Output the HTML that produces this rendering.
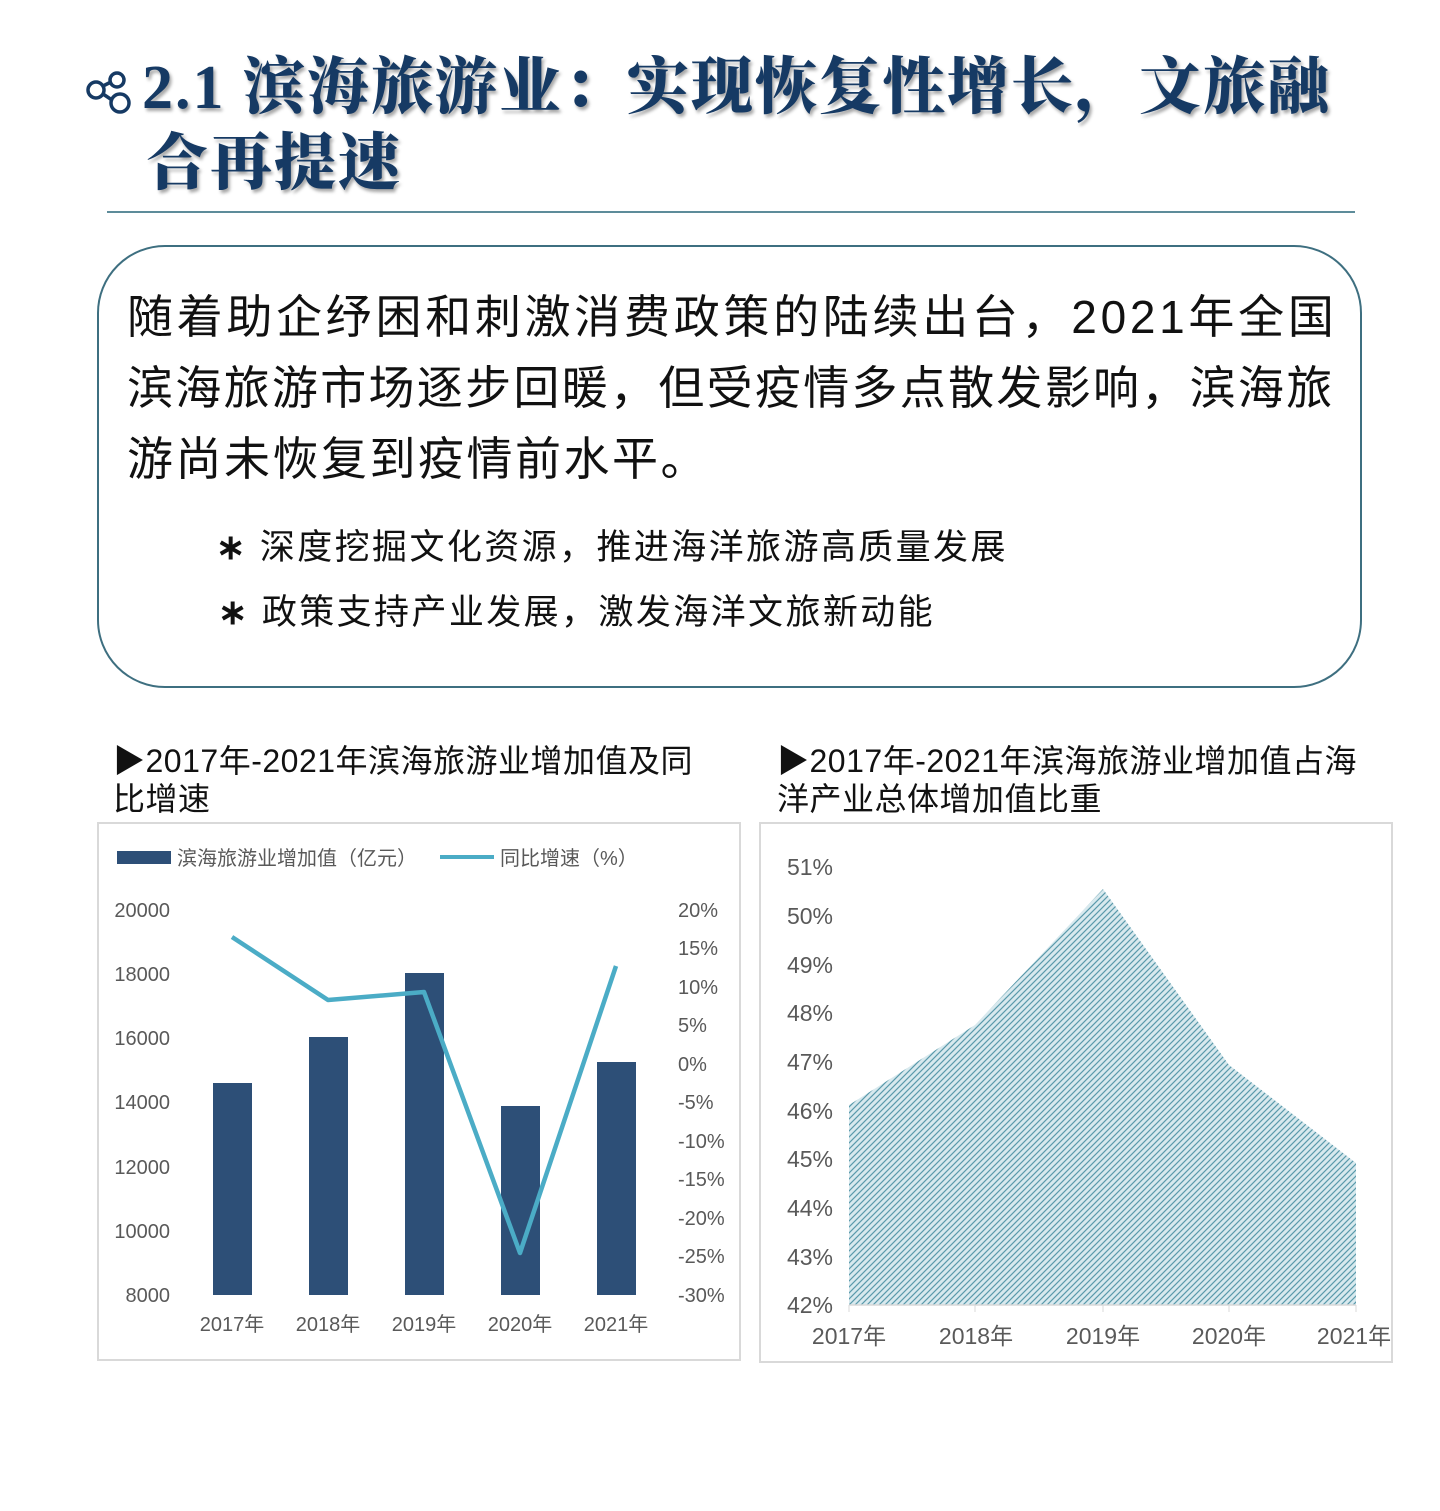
<!DOCTYPE html>
<html><head><meta charset="utf-8"><style>
body{margin:0;width:1440px;height:1511px;background:#fff;position:relative;overflow:hidden;font-family:"Liberation Sans","Noto Sans CJK SC",sans-serif;}
.t{position:absolute;white-space:nowrap}
.title{font-family:"Liberation Serif","Noto Serif CJK SC",serif;font-weight:900;color:#163a64;font-size:62px;text-shadow:2px 3px 3px rgba(0,0,0,.35);letter-spacing:2px}
</style></head><body>
<svg class="t" style="left:84px;top:70px" width="50" height="48" viewBox="0 0 50 48"><g fill="none" stroke="#163a64" stroke-width="3.5"><circle cx="12" cy="20" r="8"/><circle cx="33" cy="10" r="7"/><circle cx="36" cy="33" r="9"/><line x1="19" y1="16" x2="27" y2="12"/><line x1="19" y1="24" x2="28" y2="30"/></g></svg>
<div class="t title" style="left:142px;top:50px;line-height:76px">2.1 滨海旅游业：实现恢复性增长，文旅融</div>
<div class="t title" style="left:146px;top:126px;line-height:76px">合再提速</div>
<div class="t" style="left:107px;top:211px;width:1248px;height:2px;background:#5d8c9a"></div>
<div class="t" style="left:97px;top:245px;width:1265px;height:443px;border:2px solid #3e6f80;border-radius:68px;box-sizing:border-box"></div>
<div class="t" style="left:127px;top:282px;font-size:46px;line-height:71px;color:#111"><span style="letter-spacing:3.7px">随着助企纾困和刺激消费政策的陆续出台，2021年全国</span><br><span style="letter-spacing:2.3px">滨海旅游市场逐步回暖，但受疫情多点散发影响，滨海旅</span><br><span style="letter-spacing:2.5px">游尚未恢复到疫情前水平。</span></div>
<div class="t" style="left:216px;top:525px;font-size:35px;line-height:45px;color:#111;letter-spacing:2.4px"><b>∗</b> 深度挖掘文化资源，推进海洋旅游高质量发展</div>
<div class="t" style="left:218px;top:590px;font-size:35px;line-height:45px;color:#111;letter-spacing:2.4px"><b>∗</b> 政策支持产业发展，激发海洋文旅新动能</div>
<div class="t" style="left:113px;top:742px;font-size:32px;line-height:38px;color:#111;letter-spacing:0.5px">▶2017年-2021年滨海旅游业增加值及同<br>比增速</div>
<div class="t" style="left:777px;top:742px;font-size:32px;line-height:38px;color:#111;letter-spacing:0.5px">▶2017年-2021年滨海旅游业增加值占海<br>洋产业总体增加值比重</div>
<svg class="t" style="left:0;top:0" width="1440" height="1511" font-family="Liberation Sans, Noto Sans CJK SC, sans-serif">
<defs><pattern id="p" width="6" height="6" patternUnits="userSpaceOnUse"><rect width="6" height="6" fill="#d8e9ee"/><path d="M0 6L6 0M-1 1L1 -1M5 7L7 5" stroke="#5a9aab" stroke-width="1.2"/></pattern></defs>
<rect x="98" y="823" width="642" height="537" fill="none" stroke="#d9d9d9" stroke-width="2"/>
<rect x="760" y="823" width="632" height="539" fill="none" stroke="#d9d9d9" stroke-width="2"/>
<rect x="117" y="851" width="54" height="13" fill="#2d4f77"/>
<text x="177" y="865" font-size="20" fill="#595959">滨海旅游业增加值（亿元）</text>
<line x1="440" y1="857" x2="494" y2="857" stroke="#4bacc6" stroke-width="4"/>
<text x="500" y="865" font-size="20" fill="#595959">同比增速（%）</text>
<g font-size="20" fill="#595959" text-anchor="end">
<text x="170" y="917">20000</text><text x="170" y="981">18000</text><text x="170" y="1045">16000</text><text x="170" y="1109">14000</text><text x="170" y="1174">12000</text><text x="170" y="1238">10000</text><text x="170" y="1302">8000</text></g>
<g font-size="20" fill="#595959">
<text x="678" y="917">20%</text><text x="678" y="955">15%</text><text x="678" y="994">10%</text><text x="678" y="1032">5%</text><text x="678" y="1071">0%</text><text x="678" y="1109">-5%</text><text x="678" y="1148">-10%</text><text x="678" y="1186">-15%</text><text x="678" y="1225">-20%</text><text x="678" y="1263">-25%</text><text x="678" y="1302">-30%</text></g>
<g fill="#2d4f77"><rect x="213" y="1083" width="39" height="212"/><rect x="309" y="1037" width="39" height="258"/><rect x="405" y="973" width="39" height="322"/><rect x="501" y="1106" width="39" height="189"/><rect x="597" y="1062" width="39" height="233"/></g>
<polyline points="232,937 328,1000 424,992 520,1253 616,966" fill="none" stroke="#4bacc6" stroke-width="4.5" stroke-linejoin="round"/>
<g font-size="20" fill="#595959" text-anchor="middle"><text x="232" y="1331">2017年</text><text x="328" y="1331">2018年</text><text x="424" y="1331">2019年</text><text x="520" y="1331">2020年</text><text x="616" y="1331">2021年</text></g>
<g font-size="23" fill="#595959" text-anchor="end">
<text x="833" y="875">51%</text><text x="833" y="924">50%</text><text x="833" y="973">49%</text><text x="833" y="1021">48%</text><text x="833" y="1070">47%</text><text x="833" y="1119">46%</text><text x="833" y="1167">45%</text><text x="833" y="1216">44%</text><text x="833" y="1265">43%</text><text x="833" y="1313">42%</text></g>
<polygon points="849,1105 975,1025 1103,889 1229,1065 1356,1163 1356,1305 849,1305" fill="url(#p)"/>
<line x1="849" y1="1305" x2="1356" y2="1305" stroke="#d9d9d9" stroke-width="1.5"/>
<g stroke="#d9d9d9"><line x1="849" y1="1305" x2="849" y2="1312"/><line x1="975" y1="1305" x2="975" y2="1312"/><line x1="1103" y1="1305" x2="1103" y2="1312"/><line x1="1229" y1="1305" x2="1229" y2="1312"/><line x1="1356" y1="1305" x2="1356" y2="1312"/></g>
<g font-size="23" fill="#595959" text-anchor="middle"><text x="849" y="1344">2017年</text><text x="976" y="1344">2018年</text><text x="1103" y="1344">2019年</text><text x="1229" y="1344">2020年</text><text x="1354" y="1344">2021年</text></g>
</svg>
</body></html>
